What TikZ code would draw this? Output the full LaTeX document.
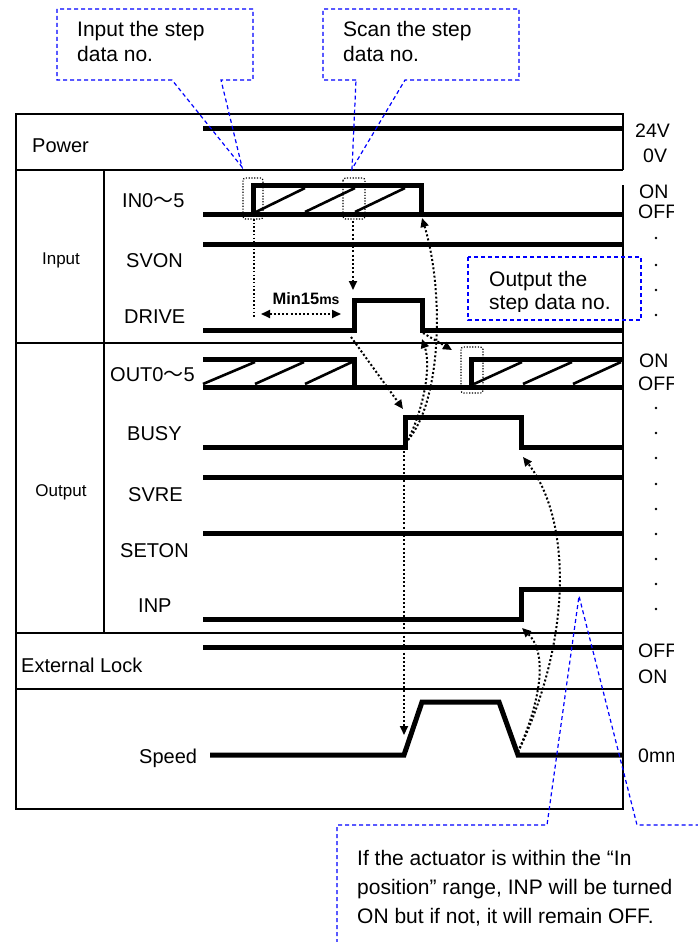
\documentclass[tikz,border=0pt]{standalone}
\usepackage{fontspec}
\setmainfont{Liberation Sans}
\newfontfamily\cjkfont{Noto Sans CJK JP}
\usetikzlibrary{arrows.meta}
\begin{document}
\begin{tikzpicture}[x=1pt,y=-1pt,
  sig/.style={line width=5pt, line join=miter, line cap=butt},
  hatch/.style={line width=2.6pt},
  grid/.style={line width=2pt},
  lbl/.style={font=\fontsize{20}{24}\selectfont, inner sep=0pt, anchor=base west},
  grp/.style={font=\fontsize{17}{20}\selectfont, inner sep=0pt, anchor=base},
  rlbl/.style={font=\fontsize{19.5}{22}\selectfont, inner sep=0pt, anchor=base west},
  note/.style={font=\fontsize{21}{25}\selectfont, inner sep=0pt, anchor=base west},
  call/.style={draw=blue, dash pattern=on 4pt off 3pt, line width=1.2pt},
  dotarrow/.style={line width=2pt, dash pattern=on 2pt off 2.2pt, -{Triangle[length=9pt,width=8pt]}},
  dotdbl/.style={line width=2pt, dash pattern=on 2pt off 2.2pt, {Triangle[length=9pt,width=8pt]}-{Triangle[length=9pt,width=8pt]}},
  dotline/.style={line width=1.5pt, dash pattern=on 1.5pt off 2.2pt},
  dotbox/.style={line width=1.2pt, dash pattern=on 1.2pt off 1.6pt, rounded corners=2.5pt}
]
\useasboundingbox (0,0) rectangle (697,942);
\fill[white] (0,0) rectangle (697,942);

% ---------- table grid ----------
\draw[grid] (623,185) -- (623,809) -- (16,809) -- (16,114) -- (623,114) -- (623,170);
\draw[grid] (16,170) -- (623,170);
\draw[grid] (16,343) -- (623,343);
\draw[grid] (16,633) -- (623,633);
\draw[grid] (16,689) -- (623,689);
\draw[grid] (104,170) -- (104,633);

% ---------- left labels ----------
\node[lbl] (lpower) at (32,152) {Power};
\node[grp] (linput) at (61,264) {Input};
\node[lbl] (lin) at (122,207) {IN0{\cjkfont ～}5};
\node[lbl] (lsvon) at (126,267) {SVON};
\node[lbl] (ldrive) at (124,323) {DRIVE};
\node[grp] (loutput) at (61,496) {Output};
\node[lbl] (lout) at (110,381) {OUT0{\cjkfont ～}5};
\node[lbl] (lbusy) at (127,440) {BUSY};
\node[lbl] (lsvre) at (128,501) {SVRE};
\node[lbl] (lseton) at (120,557) {SETON};
\node[lbl] (linp) at (138,612) {INP};
\node[lbl] (lext) at (21,672) {External Lock};
\node[lbl] (lspeed) at (139,763) {Speed};

% ---------- right labels ----------
\begin{scope}
\clip (625,100) rectangle (673,800);
\node[rlbl] (r24) at (635,137) {24V};
\node[rlbl] (r0) at (643,162) {0V};
\node[rlbl] (rin1) at (639,198) {ON};
\node[rlbl] (rin0) at (638,218) {OFF};
\node[rlbl] (rout1) at (639,367) {ON};
\node[rlbl] (rout0) at (638,390) {OFF};
\node[rlbl] (rext0) at (638,657) {OFF};
\node[rlbl] (rext1) at (638,683) {ON};
\node[rlbl] (rsp) at (638,762) {0mm};
\end{scope}
\foreach \yy in {238,265,290,315,408,433,458,484,509,534,559,584,609}
  \fill (656,\yy) circle[radius=1.4pt];

% ---------- signals ----------
\draw[sig] (203,128) -- (623,128);
% IN0~5
\draw[sig] (203,214) -- (623,214);
\draw[sig] (253,214) -- (253,185) -- (421,185) -- (421,214);
\draw[hatch] (256,212) -- (305,188) (305,212) -- (355,188) (355,212) -- (405,188);
% SVON
\draw[sig] (203,244) -- (623,244);
% DRIVE
\draw[sig] (203,330) -- (354,330) -- (354,300) -- (422,300) -- (422,330) -- (623,330);
% OUT0~5
\draw[sig] (203,359) -- (354,359) -- (354,387);
\draw[sig] (203,387) -- (623,387);
\draw[sig] (471,387) -- (471,359) -- (623,359);
\draw[hatch] (203,384) -- (255,362) (255,384) -- (304,362) (305,384) -- (352,362)
             (474,384) -- (522,362) (523,384) -- (572,362) (573,384) -- (621,362);
% BUSY
\draw[sig] (203,447) -- (405,447) -- (405,417) -- (521,417) -- (521,447) -- (623,447);
% SVRE, SETON
\draw[sig] (203,477) -- (623,477);
\draw[sig] (203,533) -- (623,533);
% INP
\draw[sig] (203,619) -- (521,619) -- (521,589) -- (623,589);
% External lock
\draw[sig] (203,647) -- (623,647);
% Speed
\draw[sig] (210,755) -- (404,755) -- (422,702) -- (499,702) -- (518,755) -- (623,755);

% ---------- timing markers ----------
\coordinate (inUp) at (254,219);
\coordinate (inUpEnd) at (254,317);
\coordinate (minL) at (261,314);
\coordinate (minR) at (341,314);
\coordinate (scanB) at (353,221);
\coordinate (drvTop) at (353,290);
\coordinate (drvUp) at (351,337);
\coordinate (busyUpT) at (403,409);
\coordinate (busyUpB) at (408,440);
\coordinate (drvDn) at (422,339);
\coordinate (inDn) at (422,218);
\coordinate (drvDnS) at (423,333);
\coordinate (outUp) at (452,350);
\coordinate (busyV) at (404,451);
\coordinate (spdUp) at (404,735);
\coordinate (spdDn) at (518,752);
\coordinate (busyDn) at (523,457);
\coordinate (inpUp) at (522,628);

\draw[dotbox] (243,178) rectangle (263,219);
\draw[dotbox] (343,178) rectangle (365,219);
\draw[dotbox] (461,347) rectangle (483,393);

\draw[dotline] (inUp) -- (inUpEnd);
\draw[dotdbl] (minL) -- (minR);
\node[font=\bfseries\fontsize{16.5}{19}\selectfont, inner sep=0pt, anchor=base] (minlbl) at (306,304) {Min15{\fontsize{14}{16}\selectfont ms}};
\draw[dotarrow] (scanB) -- (drvTop);
\draw[dotarrow] (drvUp) -- (busyUpT);
\draw[dotarrow] (busyUpB) .. controls (425,405) and (431,365) .. (drvDn);
\draw[dotarrow] (busyUpB) .. controls (442,400) and (444,290) .. (inDn);
\draw[dotarrow] (drvDnS) -- (outUp);
\draw[dotarrow] (busyV) -- (spdUp);
\draw[dotarrow] (spdDn) .. controls (572,640) and (572,520) .. (busyDn);
\draw[dotarrow] (spdDn) .. controls (545,690) and (545,650) .. (inpUp);

% ---------- callouts ----------
\node[note] (c1a) at (77,37) {Input the step};
\node[note] (c1b) at (77,61.5) {data no.};
\coordinate (c1p) at (242,167);
\draw[call] (172,80) -- (57,80) -- (57,9) -- (253,9) -- (253,80) -- (221,80) -- (c1p) -- cycle;

\node[note] (c2a) at (343,37) {Scan the step};
\node[note] (c2b) at (343,61.5) {data no.};
\coordinate (c2p) at (352,169);
\draw[call] (356,80) -- (323,80) -- (323,9) -- (519,9) -- (519,80) -- (405,80) -- (c2p) -- cycle;

\draw[call] (468,257) rectangle (641,320);
\begin{scope}
\clip (468,257) rectangle (641,311);
\node[note] (c3a) at (489,286) {Output the};
\node[note] (c3b) at (489,309) {step data no.};
\end{scope}

\coordinate (c4p) at (579,596);
\draw[call] (337,950) -- (337,825) -- (547,825) -- (c4p) -- (637,825) -- (705,825);
\node[note] (c4a) at (357,865) {If the actuator is within the “In};
\node[note] (c4b) at (357,894) {position” range, INP will be turned};
\node[note] (c4c) at (357,923) {ON but if not, it will remain OFF.};
\end{tikzpicture}
\end{document}
